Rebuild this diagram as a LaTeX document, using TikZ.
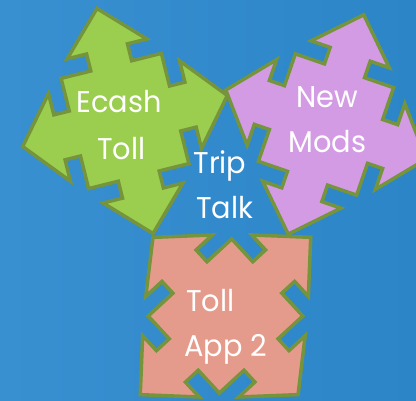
\documentclass[tikz,border=0pt]{standalone}
\usepackage{fontspec}
\newfontfamily\labelfont[FakeStretch=0.96]{Poppins}
\definecolor{bgleft}{RGB}{57,144,209}
\definecolor{bgright}{RGB}{43,133,199}
\definecolor{rim}{RGB}{118,148,60}
\definecolor{limefill}{RGB}{155,205,78}
\definecolor{lilacfill}{RGB}{212,155,229}
\definecolor{salmonfill}{RGB}{229,155,139}

% four-headed arrow with a square body, in unit coordinates
\newcommand{\quadarrowpath}{%
  (0,1) -- (0.39,0.64) -- (0.2,0.64) -- (0.2,0.49) -- (0.49,0.49) -- (0.49,0.2) --
  (0.64,0.2) -- (0.64,0.39) -- (1,0) -- (0.64,-0.39) -- (0.64,-0.2) -- (0.49,-0.2) --
  (0.49,-0.49) -- (0.2,-0.49) -- (0.2,-0.64) -- (0.39,-0.64) -- (0,-1) --
  (-0.39,-0.64) -- (-0.2,-0.64) -- (-0.2,-0.49) -- (-0.49,-0.49) -- (-0.49,-0.2) --
  (-0.64,-0.2) -- (-0.64,-0.39) -- (-1,0) -- (-0.64,0.39) -- (-0.64,0.2) --
  (-0.49,0.2) -- (-0.49,0.49) -- (-0.2,0.49) -- (-0.2,0.64) -- (-0.39,0.64) -- cycle}

\tikzset{
  quadarrow/.style={draw=rim, line width=3.5pt, line join=miter, miter limit=20},
  label/.style={text=white, inner sep=0pt, font=\labelfont\fontsize{30}{36}\selectfont}
}

\begin{document}
\begin{tikzpicture}[x=1pt, y=-1pt]
  \useasboundingbox (0,0) rectangle (416,401);
  \shade[left color=bgleft, right color=bgright] (0,0) rectangle (416,401);

  % bottom shape, arms towards the corners
  \begin{scope}[shift={(225.5,316)}, rotate=-47.3, xscale=107, yscale=116]
    \path[quadarrow, fill=salmonfill] \quadarrowpath;
  \end{scope}
  % right shape
  \begin{scope}[shift={(326,124.5)}, rotate=-19, xscale=106, yscale=116]
    \path[quadarrow, fill=lilacfill] \quadarrowpath;
  \end{scope}
  % left shape
  \begin{scope}[shift={(125,121)}, rotate=14, xscale=105.5, yscale=116]
    \path[quadarrow, fill=limefill] \quadarrowpath;
  \end{scope}

  \node[label, anchor=base] (ecash) at (119,113) {Ecash};
  \node[label, anchor=base] (ecashtoll) at (121.5,160) {Toll};
  \node[label, anchor=base] (new) at (327.5,108) {New};
  \node[label, anchor=base] (mods) at (327.5,153) {Mods};
  \node[label, anchor=base] (trip) at (220,174) {Trip};
  \node[label, anchor=base] (talk) at (224.5,219) {Talk};
  \node[label, anchor=base west] (toll) at (186,312) {Toll};
  \node[label, anchor=base west] (app) at (184,357) {App 2};
\end{tikzpicture}
\end{document}
